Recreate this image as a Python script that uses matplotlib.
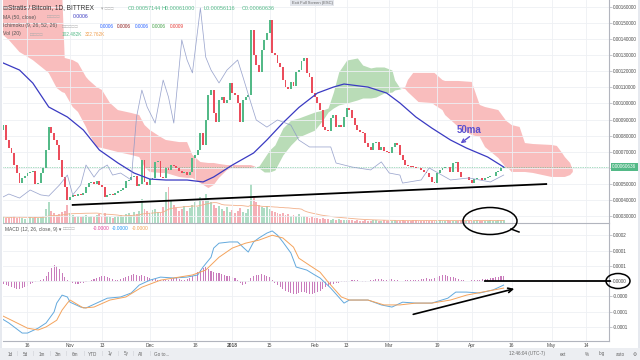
import numpy as np
import pandas as pd
import matplotlib
matplotlib.use("Agg")
import matplotlib.pyplot as plt
import matplotlib.dates as mdates
from matplotlib.patches import Ellipse, Rectangle
from matplotlib.lines import Line2D

plt.rcParams['font.family'] = ['Liberation Sans', 'DejaVu Sans']

# daily closes STRAT/BTC in 1e-5 BTC, 2017-10-07 .. 2018-04-13
closes = np.array([
    86.6, 77.3, 72.3, 69.2, 61.7, 56.8, 50.5, 53.7, 54.9, 56.8, 57.4,
    58.0, 49.9, 50.5, 56.8, 59.9, 71.1, 85.4, 81.6, 77.3, 74.2,
    64.9, 54.3, 48.1, 40.0, 41.8, 43.1, 42.5, 43.7, 43.1, 44.3,
    48.1, 50.5, 51.2, 49.9, 51.8, 49.3, 48.1, 41.8, 43.1, 43.7,
    43.1, 44.3, 45.6, 46.2, 47.4, 51.8, 52.4, 54.3, 54.9, 48.7,
    49.9, 64.9, 51.2, 49.3, 53.0, 53.7, 63.6, 64.2, 54.3, 53.7,
    59.9, 58.6, 61.7, 61.1, 59.9, 58.0, 56.8, 57.4, 55.5, 57.4,
    66.1, 68.0, 71.1, 81.6, 74.2, 89.7, 105.3, 108.4, 94.1, 88.5,
    102.2, 104.0, 100.3, 102.2, 112.7, 106.5, 105.3, 100.3, 88.5, 102.2,
    104.0, 105.3, 145.7, 130.1, 123.9, 119.6, 133.3, 139.5, 143.8, 151.9,
    131.4, 130.1, 125.2, 122.7, 114.6, 110.2, 109.0, 113.4, 110.9, 119.6,
    121.0, 126.4, 128.3, 119.0, 116.5, 106.5, 104.0, 100.3, 95.9, 85.4,
    83.5, 82.8, 91.0, 92.8, 85.4, 86.6, 85.4, 91.6, 97.2, 95.9,
    91.0, 86.6, 83.5, 82.3, 81.6, 75.4, 72.9, 71.1, 75.4, 76.0,
    71.1, 72.9, 70.4, 70.0, 69.2, 72.9, 75.4, 74.2, 68.0, 64.9,
    61.7, 61.1, 60.8, 60.5, 59.9, 59.6, 58.6, 57.4, 57.0, 54.3,
    51.2, 50.8, 56.8, 58.6, 59.9, 60.5, 60.2, 57.4, 63.0, 63.6,
    57.4, 54.3, 54.0, 54.3, 52.4, 50.5, 53.0, 53.7, 53.4, 52.4,
    53.7, 54.3, 54.6, 54.9, 57.4, 58.0, 59.9, 60.636]) * 1e-5
first_open = 83.5e-5

volume = np.array([
    6, 5, 5, 6, 7, 5, 6, 5, 4, 5, 6,
    5, 6, 5, 6, 7, 14, 20, 12, 10, 8,
    9, 11, 12, 18, 10, 8, 6, 7, 6, 7, 8, 6, 7,
    6, 8, 9, 7, 10, 7, 6, 5, 6,
    7, 8, 6, 9, 10, 8, 11, 9, 12,
    23, 14, 12, 10, 13, 14, 11, 10,
    16, 30, 35, 22, 18, 15, 12,
    14, 17, 12, 15, 18, 20, 16,
    25, 22, 28, 24, 20, 18, 15,
    17, 14, 12, 16, 11, 13, 10, 12, 15, 11, 10, 14,
    38, 26, 20, 18, 16, 15, 17, 14,
    12, 11, 10, 9, 10, 8, 9, 7, 8, 7, 9, 6, 7, 6, 5,
    6, 5, 5, 4, 5, 4, 4, 3, 4, 3, 4, 3, 3, 3, 3,
    3, 2, 3, 2, 2, 3, 2, 2, 3, 3, 2, 2, 3, 2, 2, 2, 3, 2, 2, 3,
    2, 2, 2, 3, 3, 2, 2, 2, 3, 2, 2, 2, 2, 3, 2, 2, 3, 2, 2, 2,
    2, 3, 3, 2, 2, 2, 2, 3, 2, 2, 2, 2, 3, 2, 2, 3, 3, 3])

# MACD histogram, 1e-6 BTC, one per day
macd_hist = np.array([
    -10, -13, -16, -20, -23, -26, -26, -23, -20, -16, -10, -7,
    -3, 0, 3, 7,
    16, 30, 43, 53, 49, 40, 26,
    13, 3, -3, -7, -10,
    -10, -7, -7, -3, 0,
    3, 7, 10, 13, 16, 16, 13, 10,
    7, 3, 3, 7, 10, 13, 16,
    20, 23, 20, 16, 20, 16, 13,
    10, 7, 7, 3, 3, 3,
    3, 3, 7, 10, 10, 7, 3, 3,
    7, 10, 16, 23,
    30, 36, 43, 46, 40, 33, 30,
    26, 26, 23, 20, 16, 16, 13,
    10, 3, -7, -13, -10, -3,
    10, 16, 20, 20, 23, 20, 16, 13,
    3, -7, -13, -20, -26, -33,
    -36, -40, -43, -43, -40, -36, -36,
    -40, -43, -43, -40, -36, -33, -26, -20,
    -16, -13, -10, -7, -7, -3, -3,
    -3, 0, 3, 3, 3, 0, -3, -3,
    0, 3, 3, 7, 7, 7, 3, 3, 7,
    7, 3, 3, 0, 0, 3, 3,
    3, 3, 3, 3, 7, 7, 10, 7,
    7, 10, 13, 16, 20, 20, 16, 13,
    13, 10, 7, 3, 3, 0, 0, 3,
    3, 3, 3, 7, 7, 7, 10,
    10, 13, 13, 16, 16]) * 1e-6

ma_dates = ['2017-10-06', '2017-10-13', '2017-10-18', '2017-10-24', '2017-10-31',
            '2017-11-06', '2017-11-12', '2017-11-19', '2017-11-25', '2017-12-01',
            '2017-12-07', '2017-12-15', '2017-12-21', '2017-12-25', '2018-01-01',
            '2018-01-09', '2018-01-14', '2018-01-20', '2018-01-26', '2018-02-02',
            '2018-02-08', '2018-02-12', '2018-02-21', '2018-02-28', '2018-03-05',
            '2018-03-11', '2018-03-17', '2018-03-24', '2018-03-30', '2018-04-07',
            '2018-04-13']
ma50 = np.array([125.8, 120.8, 112.7, 97.8, 91.6, 83.5, 71.1, 63.0, 56.8, 53.0,
                 52.4, 52.4, 51.2, 54.3, 61.7, 69.2, 77.3, 87.9, 97.5, 106.5,
                 110.2, 112.1, 110.2, 106.5, 100.3, 91.6, 84.7, 77.3, 72.3, 66.7,
                 60.5]) * 1e-5

cloud_dates = ['2017-10-06', '2017-10-09', '2017-10-13', '2017-10-18', '2017-10-24',
               '2017-10-27', '2017-10-29', '2017-10-30', '2017-11-02', '2017-11-04',
               '2017-11-07', '2017-11-08', '2017-11-11', '2017-11-13', '2017-11-16',
               '2017-11-19', '2017-11-24', '2017-11-27', '2017-11-29', '2017-12-01',
               '2017-12-05', '2017-12-07', '2017-12-12', '2017-12-15', '2017-12-17',
               '2017-12-20', '2017-12-23', '2017-12-25', '2017-12-27', '2017-12-30',
               '2018-01-01', '2018-01-08', '2018-01-11', '2018-01-13', '2018-01-15',
               '2018-01-17', '2018-01-20', '2018-01-23', '2018-01-26', '2018-02-01',
               '2018-02-04', '2018-02-06', '2018-02-08', '2018-02-10', '2018-02-13',
               '2018-02-17', '2018-02-19', '2018-02-22', '2018-02-24', '2018-02-27',
               '2018-03-02', '2018-03-03', '2018-03-05', '2018-03-07', '2018-03-08',
               '2018-03-10', '2018-03-12', '2018-03-17', '2018-03-18', '2018-03-21',
               '2018-03-22', '2018-03-27', '2018-04-01', '2018-04-04', '2018-04-06',
               '2018-04-11', '2018-04-14', '2018-04-15', '2018-04-16', '2018-04-19',
               '2018-04-21', '2018-04-24', '2018-05-01', '2018-05-03', '2018-05-05',
               '2018-05-06', '2018-05-08', '2018-05-09']
span_a = np.array([143.8, 139.5, 132.0, 127.0, 119.0, 109.6, 107.1, 106.5, 97.8, 94.7,
                   85.4, 81.6, 72.9, 72.3, 71.1, 69.8, 68.0, 66.7, 60.5, 57.4,
                   56.8, 56.8, 54.3, 53.7, 53.7, 50.5, 47.4, 49.3, 53.7, 58.6,
                   59.9, 59.9, 61.1, 66.1, 71.1, 74.2, 84.7, 89.7, 91.0, 94.7,
                   95.9, 97.2, 107.1, 119.6, 127.0, 128.3, 123.9, 122.1, 122.7, 122.7,
                   120.8, 114.6, 109.6, 109.0, 107.1, 104.0, 100.9, 100.3, 99.1, 95.9,
                   92.8, 85.4, 80.4, 79.2, 72.9, 66.1, 59.9, 59.3, 57.4, 57.4,
                   57.4, 56.8, 54.3, 54.3, 54.3, 54.3, 55.5, 57.4]) * 1e-5
span_b = np.array([170.6, 170.6, 170.6, 170.6, 170.6, 170.6, 170.6, 128.3, 127.0, 125.2,
                   116.5, 114.6, 110.2, 108.4, 100.3, 95.9, 94.1, 92.8, 86.6, 83.5,
                   79.2, 77.3, 76.0, 76.0, 68.0, 63.6, 63.0, 63.0, 62.4, 61.7,
                   61.7, 61.7, 59.9, 57.4, 57.4, 58.6, 68.0, 74.2, 79.2, 83.5,
                   89.7, 94.7, 97.2, 99.1, 100.3, 102.2, 103.4, 103.4, 104.0, 106.5,
                   107.1, 108.4, 109.0, 110.2, 114.6, 119.0, 119.0, 119.0, 119.0, 114.6,
                   114.0, 114.0, 113.4, 99.1, 97.8, 95.9, 89.1, 87.9, 86.6, 85.4,
                   75.4, 74.8, 74.2, 73.6, 69.2, 66.7, 63.0, 58.6]) * 1e-5

osc_dates = ['2017-10-06', '2017-10-09', '2017-10-13', '2017-10-17', '2017-10-21',
             '2017-10-24', '2017-10-28', '2017-10-31', '2017-11-02', '2017-11-05',
             '2017-11-07', '2017-11-10', '2017-11-12', '2017-11-15', '2017-11-17',
             '2017-11-20', '2017-11-24', '2017-11-26', '2017-11-28', '2017-11-30',
             '2017-12-03', '2017-12-06', '2017-12-08', '2017-12-10', '2017-12-13',
             '2017-12-15', '2017-12-17', '2017-12-20', '2017-12-22', '2017-12-24',
             '2017-12-27', '2017-12-30', '2018-01-03', '2018-01-05', '2018-01-08',
             '2018-01-10', '2018-01-14', '2018-01-18', '2018-01-23', '2018-01-26',
             '2018-01-30', '2018-02-03', '2018-02-07', '2018-02-09', '2018-02-15',
             '2018-02-22', '2018-02-26', '2018-03-01', '2018-03-05', '2018-03-06',
             '2018-03-13', '2018-03-16', '2018-03-24', '2018-03-31', '2018-04-08',
             '2018-04-13']
osc_vals = [11.2, 13.0, 11.2, 14.8, 12.6, 12.1, 17.0, 21.5, 12.6, 17.0,
            26.0, 20.6, 23.8, 26.0, 21.5, 22.4, 19.3, 47.5, 59.6, 52.0,
            44.8, 64.1, 56.5, 44.8, 82.1, 73.1, 67.3, 96.4, 74.4, 68.6,
            62.8, 68.6, 73.1, 65.5, 53.8, 46.2, 43.0, 46.2, 43.9, 37.2,
            34.1, 34.1, 34.1, 26.9, 25.1, 23.8, 27.4, 22.4, 21.5, 17.9,
            19.3, 24.7, 19.3, 20.2, 18.4, 21.5]

macd_dates = ['2017-10-06', '2017-10-09', '2017-10-14', '2017-10-16', '2017-10-20',
              '2017-10-23', '2017-10-26', '2017-10-27', '2017-10-29', '2017-10-31',
              '2017-11-01', '2017-11-05', '2017-11-07', '2017-11-11', '2017-11-15',
              '2017-11-20', '2017-11-24', '2017-11-27', '2017-12-01', '2017-12-05',
              '2017-12-10', '2017-12-15', '2017-12-19', '2017-12-21', '2017-12-24',
              '2017-12-25', '2017-12-27', '2017-12-31', '2018-01-03', '2018-01-05',
              '2018-01-07', '2018-01-09', '2018-01-11', '2018-01-14', '2018-01-16',
              '2018-01-18', '2018-01-20', '2018-01-23', '2018-01-25', '2018-01-29',
              '2018-02-01', '2018-02-03', '2018-02-07', '2018-02-12', '2018-02-14',
              '2018-02-21', '2018-02-26', '2018-03-02', '2018-03-06', '2018-03-11',
              '2018-03-17', '2018-03-23', '2018-03-26', '2018-03-30', '2018-04-04',
              '2018-04-09', '2018-04-13']
macd_line = np.array([-12.1, -13.7, -17.0, -17.0, -15.4, -13.7, -10.1, -7.2, -4.6, -5.2,
                      -6.9, -8.5, -8.8, -7.2, -5.6, -5.2, -3.9, -1.3, 0.3, 1.3,
                      1.0, 1.3, 2.0, 4.6, 7.8, 10.8, 12.4, 12.8, 12.8, 11.1,
                      9.5, 12.8, 14.1, 15.7, 16.4, 15.0, 12.8, 9.2, 4.6, 3.6,
                      2.0, 1.0, -2.3, -7.2, -6.2, -6.2, -7.8, -8.5, -6.9, -7.2,
                      -7.2, -5.6, -3.6, -3.6, -3.9, -2.9, -1.3]) * 1e-5

signal_dates = ['2017-10-06', '2017-10-10', '2017-10-16', '2017-10-20', '2017-10-23',
                '2017-10-27', '2017-10-29', '2017-10-31', '2017-11-01', '2017-11-06',
                '2017-11-10', '2017-11-16', '2017-11-22', '2017-11-28', '2017-12-05',
                '2017-12-12', '2017-12-17', '2017-12-22', '2017-12-27', '2018-01-01',
                '2018-01-06', '2018-01-11', '2018-01-16', '2018-01-20', '2018-01-24',
                '2018-01-26', '2018-01-31', '2018-02-03', '2018-02-06', '2018-02-11',
                '2018-02-14', '2018-02-21', '2018-02-27', '2018-03-05', '2018-03-11',
                '2018-03-17', '2018-03-24', '2018-03-30', '2018-04-05', '2018-04-13']
signal_line = np.array([-11.1, -12.8, -15.4, -16.0, -15.0, -12.8, -9.5, -7.2, -6.2, -8.8,
                        -8.5, -6.2, -5.2, -2.0, 0.3, 1.3, 2.0, 3.6, 7.8, 10.8,
                        12.4, 13.4, 15.0, 14.1, 11.1, 7.5, 4.6, 2.9, -0.3, -5.2,
                        -6.2, -6.2, -7.8, -7.8, -7.2, -7.2, -6.2, -4.6, -3.6, -2.3]) * 1e-5

price_ticks = np.round(np.arange(3, 17) * 1e-4, 6)
macd_ticks = [0.00015, 0.0001, 0.00005, 0.0, -0.00005, -0.0001, -0.00015]
macd_tick_labels = ['0.0002', '0.0001', '0.0001', '0.0000', '-0.0000', '-0.0001', '-0.0001']
time_ticks = ['2017-10-16', '2017-11-01', '2017-11-13', '2017-12-01', '2017-12-18',
              '2018-01-01', '2018-01-15', '2018-02-01', '2018-02-13', '2018-03-01',
              '2018-03-19', '2018-04-01', '2018-04-16', '2018-05-01', '2018-05-14']
time_labels = ['16', 'Nov', '13', 'Dec', '18', '2018', '15', 'Feb', '13', 'Mar',
               '19', 'Apr', '16', 'May', '14']

UP = '#53b987'
DOWN = '#eb4d5c'
GRID = '#eef0f4'
AXC = '#b2b5be'
TXT = '#4a4a4a'


def fx(px):
    return px / 640.0


def fy(py):
    return 1 - py / 360.0


def D(s):
    return mdates.date2num(pd.Timestamp(s))


fig = plt.figure(figsize=(6.4, 3.6), dpi=100)
fig.patch.set_facecolor('#e6e9ef')
fig.add_artist(Rectangle((fx(2), fy(348)), fx(636), 348 / 360.0, transform=fig.transFigure,
                         fc='white', ec='none', zorder=0))

ax = fig.add_axes([fx(3), fy(223), fx(606), 223 / 360.0])
axm = fig.add_axes([fx(3), fy(341), fx(606), 118 / 360.0], sharex=ax)
axv = ax.twinx()
axr = ax.twinx()
axv.set_zorder(1)
ax.set_zorder(2)
axr.set_zorder(3)
for a in (ax, axv, axr, axm):
    a.patch.set_visible(False)

days = pd.date_range('2017-10-07', periods=len(closes), freq='D')
dn = mdates.date2num(days)
opens = np.r_[first_open, closes[:-1]]
up = closes >= opens
cols = np.where(up, UP, DOWN)

x0 = D('2017-11-01') - 25.2
x1 = D('2017-11-01') + 202.6
ax.set_xlim(x0, x1)
ax.set_ylim(0.0002567, 0.0016435)

# ichimoku cloud
cd = np.array([D(s) for s in cloud_dates])
ax.fill_between(cd, span_a, span_b, where=span_a >= span_b, interpolate=True,
                color='#b9dcb7', lw=0, zorder=1)
ax.fill_between(cd, span_a, span_b, where=span_a < span_b, interpolate=True,
                color='#f9bdbd', lw=0, zorder=1)

# candles
body = np.maximum(np.abs(closes - opens), 0.5e-5)
ax.bar(dn, body, bottom=np.minimum(opens, closes), width=0.72, color=cols, lw=0, zorder=4)

# 50 MA
ax.plot([D(s) for s in ma_dates], ma50, color='#3a3ac2', lw=0.9, zorder=5)

# last price line + label
ax.axhline(closes[-1], color=UP, lw=0.5, ls=(0, (1, 1.5)), zorder=3)
ax.text(1.005, closes[-1], '0.00060636', transform=ax.get_yaxis_transform(),
        fontsize=3.3, color='white', va='center', ha='left', clip_on=False, zorder=10,
        bbox=dict(boxstyle='square,pad=0.3', fc=UP, ec='none'))

# volume
vcols = np.where(up, '#aedcc4', '#f5b0b7')
axv.bar(dn, volume, width=0.72, color=vcols, lw=0)
axv.plot(dn, pd.Series(volume).rolling(20, min_periods=1).mean(), color='#f2b08a', lw=0.6)
axv.set_ylim(0, volume.max() / 0.175)
axv.axis('off')

# thin oscillator overlay
axr.plot([D(s) for s in osc_dates], osc_vals, color='#8b97c6', lw=0.55, alpha=0.85)
axr.set_ylim(0, 100)
axr.axis('off')

# price axis
ax.yaxis.tick_right()
ax.set_yticks(price_ticks)
ax.set_yticklabels(['' if abs(v - 0.0006) < 1e-9 else f'{v:.8f}' for v in price_ticks])
ax.tick_params(axis='y', labelsize=3.3, colors=AXC, labelcolor=TXT, length=2, width=0.5, pad=1)
ax.tick_params(axis='x', length=0, labelbottom=False)
ax.set_xticks([D(s) for s in time_ticks])
ax.grid(True, color=GRID, lw=0.6)
for s in ('top', 'left'):
    ax.spines[s].set_visible(False)
ax.spines['right'].set_color(AXC)
ax.spines['bottom'].set_color(AXC)
ax.spines['right'].set_linewidth(0.8)
ax.spines['bottom'].set_linewidth(0.8)

# MACD pane
axm.bar(dn, macd_hist, width=0.4, color='#c97cbc', lw=0)
axm.plot([D(s) for s in macd_dates], macd_line, color='#63a9dd', lw=0.7)
axm.plot([D(s) for s in signal_dates], signal_line, color='#f4a35c', lw=0.7)
axm.set_ylim(-0.000196, 0.00019)
axm.yaxis.tick_right()
axm.set_yticks(macd_ticks)
axm.set_yticklabels(macd_tick_labels)
axm.tick_params(axis='y', labelsize=3.3, colors=AXC, labelcolor=TXT, length=2, width=0.5, pad=1)
axm.set_xticks([D(s) for s in time_ticks])
axm.set_xticklabels(time_labels)
axm.tick_params(axis='x', length=0, labelsize=3.5, labelcolor=TXT, pad=1.5)
for lab in axm.get_xticklabels():
    if lab.get_text() == '2018':
        lab.set_fontweight('bold')
axm.grid(True, color=GRID, lw=0.6)
for s in ('top', 'left'):
    axm.spines[s].set_visible(False)
axm.spines['right'].set_color(AXC)
axm.spines['bottom'].set_color(AXC)
axm.spines['right'].set_linewidth(0.8)
axm.spines['bottom'].set_linewidth(0.8)

# hand drawn marks
ax.plot([D('2017-11-02'), D('2018-04-29')], [0.000369, 0.000499], color='k', lw=1.3, zorder=8)
ax.text(D('2018-03-31'), 0.000832, '50ma', color='#5a4fcf', fontsize=7, fontweight='bold',
        ha='center', va='center', zorder=9)
ax.annotate('', xy=(D('2018-03-27'), 0.000742), xytext=(D('2018-04-01'), 0.000804),
            arrowprops=dict(arrowstyle='->', color='#5a4fcf', lw=1.0, mutation_scale=6), zorder=9)
axm.plot([D('2018-04-06'), D('2018-05-23')], [0, 0], color='k', lw=1.3, clip_on=False, zorder=8)
axm.annotate('', xy=(D('2018-04-18'), -0.0000229), xytext=(D('2018-03-09'), -0.000111),
             arrowprops=dict(arrowstyle='->', color='k', lw=1.2, mutation_scale=8))
fig.add_artist(Ellipse((fx(490), fy(221)), fx(54), 27 / 360.0, transform=fig.transFigure,
                       fill=False, ec='k', lw=1.1, zorder=20))
fig.add_artist(Line2D([fx(511), fx(519)], [fy(229), fy(232)], transform=fig.transFigure,
                      color='k', lw=1.1, zorder=20))
fig.add_artist(Ellipse((fx(618), fy(281)), fx(24), 15 / 360.0, transform=fig.transFigure,
                       fill=False, ec='k', lw=1.1, zorder=20))


# legends
def T(px, py, s, **kw):
    kw.setdefault('fontsize', 3.7)
    kw.setdefault('color', '#555555')
    fig.text(fx(px), fy(py), s, va='center', ha='left', zorder=30, **kw)


T(2, 8, '⊟', fontsize=4.2)
T(8, 8, 'Stratis / Bitcoin, 1D, BITTREX', fontsize=4.7, color='#333333')
T(101, 8, '▾ □□□', fontsize=3.4, color='#aaaaaa')
T(128, 8, 'O0.00057144', fontsize=3.9, color=UP)
T(162, 8, 'H0.00061000', fontsize=3.9, color=UP)
T(203, 8, 'L0.00056116', fontsize=3.9, color=UP)
T(242, 8, 'C0.00060636', fontsize=3.9, color=UP)
T(3, 17, 'MA (50, close)')
T(47, 17, '□□□□', color='#aaaaaa')
T(73, 17, '0.0006', color='#3a3ac2')
T(3, 26, 'Ichimoku (9, 26, 52, 26)')
T(62, 26, '□□□□□', color='#aaaaaa')
for px, c in zip([100, 117, 135, 152, 170], ['#2962ff', '#8d1c1c', '#2962ff', '#43a047', '#e53935']):
    T(px, 26, '0.0009' if px == 170 else '0.0006', color=c, fontsize=3.4)
T(3, 34, 'Vol (20)')
T(30, 34, '□□□□', color='#aaaaaa')
T(62, 34, '102.482K', color='#53b987', fontsize=3.4)
T(85, 34, '322.762K', color='#f0a050', fontsize=3.4)
T(5, 229, 'MACD (12, 26, close, 9) ▾', fontsize=3.5)
T(63, 229, '□□□□', color='#aaaaaa', fontsize=3.4)
T(93, 229, '-0.0000', color='#e0409a', fontsize=3.5)
T(112, 229, '-0.0000', color='#2196f3', fontsize=3.5)
T(132, 229, '-0.0000', color='#f0a050', fontsize=3.5)
fig.text(fx(312), fy(3), 'Exit Full Screen (ESC)', fontsize=3.0, color='#666666', ha='center',
         va='center', zorder=30, bbox=dict(boxstyle='square,pad=0.3', fc='#e3e6ec', ec='none'))

# bottom toolbar
fig.add_artist(Rectangle((0, 0), 1, 12 / 360.0, transform=fig.transFigure, fc='#eceef2',
                         ec='none', zorder=1))
for px, s in zip([10, 25, 42, 58, 75, 93, 110, 126, 141, 162],
                 ['1d', '5d', '1m', '3m', '6m', 'YTD', '1y', '5y', 'All', 'Go to...']):
    fig.text(fx(px), fy(354), s, fontsize=3.3, color='#666666', ha='center', va='center', zorder=30)
for px in [17, 33, 50, 66, 84, 102, 118, 133, 150]:
    fig.text(fx(px), fy(354), '|', fontsize=3.3, color='#c4c7cd', ha='center', va='center', zorder=30)
for px, s in zip([527, 563, 587, 602, 620, 635],
                 ['12:46:04 (UTC-7)', 'ext', '%', 'log', 'auto', '⚙']):
    fig.text(fx(px), fy(354), s, fontsize=3.3, color='#666666', ha='center', va='center', zorder=30)

fig.savefig('out.png', dpi=100)
